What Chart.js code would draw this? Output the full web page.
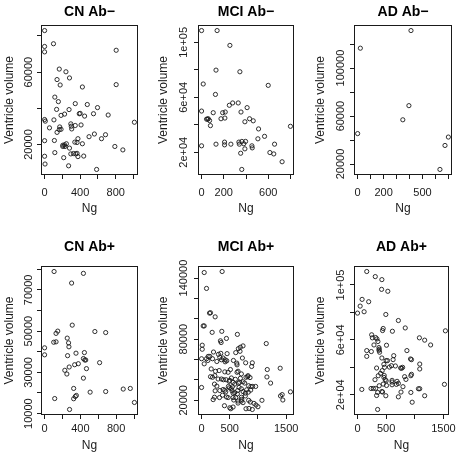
<!DOCTYPE html>
<html>
<head>
<meta charset="utf-8">
<script src="https://cdn.jsdelivr.net/npm/chart.js@4.4.0/dist/chart.umd.min.js"></script>
<style>
  html, body { margin: 0; padding: 0; background: #fff; overflow: hidden; }
  #wrap { position: relative; width: 459px; height: 455px; }
  #wrap canvas { position: absolute; }
</style>
</head>
<body>
<div id="wrap"></div>
<script>
// ---- data (Ng, ventricle volume) ----
const cnNegNg = [0, 0, 0, 100, 805, 165, 240, 140, 175, 280,
  425, 805, 115, 155, 135, 185, 225, 275, 345, 390,
  400, 450, 480, 550, 595, 715, 1010, 0, 8, 55,
  105, 170, 165, 140, 185, 300, 305, 345, 295, 410,
  0, 110, 375, 365, 425, 340, 500, 560, 640, 685,
  790, 880, 205, 225, 245, 205, 230, 280, 0, 115,
  215, 295, 325, 350, 375, 440, 365, 5, 270, 585];
const cnNegVol = [83000, 74200, 71200, 75700, 72100, 61700, 60200, 55900, 52900, 56800,
  51800, 53100, 46200, 43700, 39400, 36100, 36800, 39300, 42600, 37000,
  37200, 35700, 42100, 37000, 40400, 36300, 32300, 33800, 32900, 29200,
  33600, 29700, 28200, 26700, 28400, 30100, 28600, 30500, 31400, 30800,
  22100, 22200, 23200, 21100, 20400, 21300, 24300, 25800, 23200, 25400,
  18900, 17000, 19600, 19800, 20400, 18900, 18900, 18000, 13500, 15500,
  12700, 14800, 15000, 14800, 13300, 13600, 15100, 9200, 8200, 6200];

const mciNegNg = [0, 140, 255, 130, 345, 15, 600, 125, 0, 105,
  190, 213, 250, 280, 330, 355, 410, 45, 55, 72,
  80, 175, 210, 390, 432, 465, 513, 507, 567, 800,
  0, 130, 207, 207, 264, 336, 340, 363, 380, 396,
  352, 390, 453, 456, 615, 650, 657, 725, 362, 60];
const mciNegVol = [108600, 108600, 97800, 79800, 78600, 69700, 68700, 62100, 50000, 48800,
  48800, 49300, 54200, 55900, 55900, 49300, 52500, 44100, 44100, 43100,
  39400, 44400, 44900, 42200, 44400, 42900, 37000, 29800, 31600, 38900,
  24700, 25900, 27400, 25400, 25900, 27400, 25900, 27900, 26200, 27900,
  19300, 22500, 24700, 23200, 19800, 18800, 25900, 13100, 7500, 44400];

const adNegNg = [411, 21, 395, 348, 0, 699, 673, 634];
const adNegVol = [131300, 116600, 68700, 56900, 45400, 42500, 35500, 15500];

const cnPosNg = [106, 434, 302, 309, 147, 128, 102, 128, 253, 268,
  272, 562, 683, 0, 0, 257, 351, 445, 434, 449,
  460, 336, 377, 275, 226, 249, 468, 615, 434, 325,
  509, 683, 879, 958, 1004, 113, 325, 343, 355, 279];
const cnPosVol = [78900, 78000, 73300, 52900, 50000, 48900, 44600, 44800, 46600, 44300,
  42400, 49800, 49300, 41900, 38500, 38100, 39300, 39600, 36700, 36000,
  36000, 33700, 34200, 32600, 31000, 29200, 31800, 34700, 27200, 22200,
  20400, 20700, 21900, 22200, 15400, 17300, 17200, 18300, 18800, 12000];

const mciPosNg = [47, 365, 88, 141, 159, 241, 29, 47, 188, 359,
  635, 441, 335, 347, 1147, 12, 12, 212, 653, 688,
  735, 682, 724, 606, 453, 341, 300, 118, 147, 324,
  382, 353, 271, 0, 47, 88, 112, 194, 418, 447,
  418, 565, 624, 629, 782, 900, 888, 171, 1165, 1394,
  159, 194, 235, 247, 312, 412, 471, 512, 629, 647,
  706, 688, 788, 818, 824, 859, 1159, 1224, 294, 353,
  388, 435, 500, 488, 559, 588, 653, 735, 765, 835,
  876, 959, 229, 271, 241, 324, 382, 412, 429, 476,
  494, 524, 547, 541, 559, 588, 641, 635, 706, 735,
  776, 800, 829, 871, 906, 0, 229, 206, 318, 371,
  441, 471, 559, 571, 606, 647, 706, 712, 776, 835,
  865, 929, 965, 1000, 900, 841, 788, 735, 706, 647,
  500, 518, 559, 406, 1071, 1400, 1429, 1441, 1576, 665,
  600, 529, 676];
const mciPosVol = [145400, 146400, 129800, 105600, 105900, 101900, 93000, 93000, 86700, 87700,
  84700, 80700, 78400, 76700, 75700, 74100, 70100, 67400, 70700, 72100,
  73400, 68100, 61500, 66800, 65800, 66100, 65100, 63100, 63100, 62100,
  61500, 59800, 58100, 60800, 55800, 60800, 59100, 60800, 59800, 58800,
  57800, 59100, 56500, 54800, 56800, 56800, 53200, 50800, 50200, 51500,
  43200, 42600, 44200, 48500, 49200, 47900, 47500, 50200, 47500, 48500,
  45900, 41600, 42600, 43200, 44200, 42300, 42900, 36900, 40900, 40900,
  40200, 40200, 39600, 38600, 37600, 35900, 36900, 38200, 36900, 34300,
  33600, 33600, 35900, 33900, 29300, 29600, 30600, 29900, 28300, 33600,
  32300, 31600, 33300, 29300, 27000, 27600, 29600, 26300, 31300, 28600,
  27000, 30300, 28000, 30000, 33600, 32600, 23000, 20700, 22700, 25000,
  23300, 22700, 22700, 20300, 22700, 19300, 23000, 21000, 24300, 20000,
  18300, 17000, 15400, 13700, 11000, 12000, 11700, 17700, 19300, 17300,
  12700, 11700, 13400, 14700, 20000, 24300, 25600, 20300, 28300, 32600,
  40600, 41900, 37600];

const adPosNg = [161, 310, 425, 420, 529, 80, 46, 195, 0, 115,
  494, 713, 833, 1534, 609, 448, 437, 247, 259, 316,
  339, 356, 287, 506, 1080, 1172, 1276, 161, 241, 161,
  374, 379, 374, 385, 632, 621, 862, 942, 425, 500,
  523, 460, 592, 557, 661, 333, 471, 431, 402, 362,
  466, 483, 500, 460, 305, 603, 690, 678, 787, 770,
  753, 925, 1086, 1086, 942, 931, 845, 822, 713, 506,
  448, 793, 759, 713, 603, 603, 379, 316, 236, 276,
  351, 437, 494, 425, 333, 75, 931, 1063, 1086, 1172,
  954, 1517, 351];
const adPosVol = [109800, 106100, 103900, 96800, 95400, 89500, 84600, 87800, 79500, 80500,
  78500, 74100, 68700, 66600, 66300, 68300, 66800, 63700, 61500, 61700,
  60700, 58800, 56300, 56100, 61500, 59800, 56300, 52200, 51500, 48000,
  54400, 53200, 52400, 51000, 48500, 45600, 52200, 45600, 46800, 44900,
  44900, 42200, 41200, 40200, 41000, 39500, 40000, 37600, 35600, 33900,
  34100, 31000, 30200, 32700, 31000, 30500, 29800, 27600, 40000, 39300,
  39500, 46100, 42400, 38800, 34900, 33900, 31200, 33200, 28300, 26800,
  27800, 25900, 22000, 18500, 29300, 27300, 26600, 24600, 24600, 24600,
  21700, 22000, 19300, 22400, 19500, 23900, 21700, 24400, 24400, 19300,
  14600, 27600, 9300];

// ---- titles and axis ticks ----
const panelTitles = ['CN Ab\u2212', 'MCI Ab\u2212', 'AD Ab\u2212', 'CN Ab+', 'MCI Ab+', 'AD Ab+'];

const ngTicks1000 = [0, 200, 400, 600, 800, 1000];
const ngLabels1000 = ['0', '', '400', '', '800', ''];
const ngTicks800 = [0, 200, 400, 600, 800];
const ngLabels800 = ['0', '200', '', '600', ''];
const ngTicks700 = [0, 100, 200, 300, 400, 500, 600, 700];
const ngLabels700 = ['0', '', '200', '', '', '500', '', ''];
const ngTicks1500 = [0, 500, 1000, 1500];
const ngLabels1500 = ['0', '500', '', '1500'];

const volTicksCnNeg = [20000, 40000, 60000, 80000];
const volLabelsCnNeg = ['20000', '', '60000', ''];
const volTicksSci = [20000, 40000, 60000, 80000, 100000];
const volLabelsSci = ['2e+04', '', '6e+04', '', '1e+05'];
const volTicksAdNeg = [20000, 40000, 60000, 80000, 100000, 120000];
const volLabelsAdNeg = ['20000', '', '60000', '', '100000', ''];
const volTicksCnPos = [10000, 20000, 30000, 40000, 50000, 60000, 70000, 80000];
const volLabelsCnPos = ['10000', '', '30000', '', '50000', '', '70000', ''];
const volTicksMciPos = [20000, 40000, 60000, 80000, 100000, 120000, 140000];
const volLabelsMciPos = ['20000', '', '', '80000', '', '', '140000'];

const panels = [
  { ng: cnNegNg, vol: cnNegVol, xt: ngTicks1000, xl: ngLabels1000, yt: volTicksCnNeg, yl: volLabelsCnNeg },
  { ng: mciNegNg, vol: mciNegVol, xt: ngTicks800, xl: ngLabels800, yt: volTicksSci, yl: volLabelsSci },
  { ng: adNegNg, vol: adNegVol, xt: ngTicks700, xl: ngLabels700, yt: volTicksAdNeg, yl: volLabelsAdNeg },
  { ng: cnPosNg, vol: cnPosVol, xt: ngTicks1000, xl: ngLabels1000, yt: volTicksCnPos, yl: volLabelsCnPos },
  { ng: mciPosNg, vol: mciPosVol, xt: ngTicks1500, xl: ngLabels1500, yt: volTicksMciPos, yl: volLabelsMciPos },
  { ng: adPosNg, vol: adPosVol, xt: ngTicks1500, xl: ngLabels1500, yt: volTicksSci, yl: volLabelsSci }
];

// ---- layout of the 2 x 3 grid (like par(mfrow = c(2, 3))) ----
const FAMILY = '"Liberation Sans", Arial, Helvetica, sans-serif';
const INK = '#1a1a1a';
const TICK_LEN = 4;
const TICK_FONT = 11;
const cols = [
  { left: 0, width: 153, plotL: 41, plotR: 138, yTitle: 9.2, yLab: 12.5 },
  { left: 153, width: 153, plotL: 45, plotR: 141, yTitle: 10.8, yLab: 14.5 },
  { left: 306, width: 153, plotL: 48, plotR: 146, yTitle: 14.2, yLab: 13 }
];
const rows = [
  { top: 0, height: 228, plotT: 25, plotB: 175, titleY: 12.5, xLab: 17.5, xTitle: 209 },
  { top: 228, height: 227, plotT: 38, plotB: 187, titleY: 18.7, xLab: 13.5, xTitle: 218 }
];

Chart.defaults.font.family = FAMILY;
Chart.defaults.color = INK;

// R style range: data range extended by 4% on each side
function rRange(values) {
  const lo = Math.min(...values), hi = Math.max(...values);
  const pad = (hi - lo) * 0.04;
  return { min: lo - pad, max: hi + pad };
}

const measureCtx = document.createElement('canvas').getContext('2d');
function widest(labels, size) {
  measureCtx.font = size + 'px ' + FAMILY;
  return Math.max(...labels.map(l => measureCtx.measureText(l).width));
}

const wrap = document.getElementById('wrap');

panels.forEach((p, i) => {
  const col = cols[i % 3];
  const row = rows[Math.floor(i / 3)];

  const cv = document.createElement('canvas');
  cv.width = col.width;
  cv.height = row.height;
  cv.style.left = col.left + 'px';
  cv.style.top = row.top + 'px';
  wrap.appendChild(cv);

  const xr = rRange(p.ng);
  const yr = rRange(p.vol);
  const yPad = col.yLab - TICK_LEN - widest(p.yl, TICK_FONT) / 2;

  // box round the plot region and the panel title
  const framePlugin = {
    id: 'frame' + i,
    afterDraw(chart) {
      const { ctx, chartArea: a } = chart;
      ctx.save();
      ctx.strokeStyle = INK;
      ctx.lineWidth = 1;
      ctx.strokeRect(Math.round(a.left) + 0.5, Math.round(a.top) + 0.5,
        Math.round(a.right - a.left) - 1, Math.round(a.bottom - a.top) - 1);
      ctx.fillStyle = '#000';
      ctx.font = 'bold 14px ' + FAMILY;
      ctx.textAlign = 'center';
      ctx.textBaseline = 'middle';
      ctx.fillText(panelTitles[i], (a.left + a.right) / 2, row.titleY);
      ctx.restore();
    }
  };

  new Chart(cv, {
    type: 'scatter',
    data: {
      datasets: [{
        data: p.ng.map((x, k) => ({ x: x, y: p.vol[k] })),
        pointStyle: 'circle',
        pointRadius: 2.1,
        pointHoverRadius: 2.1,
        borderWidth: 0.9,
        borderColor: INK,
        backgroundColor: 'rgba(0,0,0,0)'
      }]
    },
    options: {
      responsive: false,
      animation: false,
      devicePixelRatio: 1,
      events: [],
      layout: { padding: { top: row.plotT, right: col.width - col.plotR, bottom: 0, left: 0 } },
      plugins: { legend: { display: false }, tooltip: { enabled: false } },
      scales: {
        x: {
          type: 'linear',
          position: 'bottom',
          min: xr.min,
          max: xr.max,
          afterBuildTicks: s => { s.ticks = p.xt.map(v => ({ value: v })); },
          afterFit: s => { s.height = row.height - row.plotB; },
          border: { display: false },
          grid: { drawOnChartArea: false, drawTicks: true, tickLength: TICK_LEN, color: INK },
          ticks: {
            autoSkip: false, minRotation: 0, maxRotation: 0,
            padding: row.xLab - TICK_LEN - TICK_FONT * 0.6,
            font: { size: TICK_FONT },
            callback: (v, k) => p.xl[k]
          },
          title: {
            display: true, text: 'Ng', font: { size: 12 },
            padding: { top: 0, bottom: row.height - 7.2 - row.xTitle }
          }
        },
        y: {
          type: 'linear',
          position: 'left',
          min: yr.min,
          max: yr.max,
          afterBuildTicks: s => { s.ticks = p.yt.map(v => ({ value: v })); },
          afterFit: s => { s.width = col.plotL; },
          border: { display: false },
          grid: { drawOnChartArea: false, drawTicks: true, tickLength: TICK_LEN, color: INK },
          ticks: {
            autoSkip: false, minRotation: 90, maxRotation: 90,
            crossAlign: 'center',
            padding: yPad,
            font: { size: TICK_FONT },
            callback: (v, k) => p.yl[k]
          },
          title: {
            display: true, text: 'Ventricle volume', font: { size: 12 },
            padding: { top: col.yTitle - 7.2, bottom: 0 }
          }
        }
      }
    },
    plugins: [framePlugin]
  });
});
</script>
</body>
</html>
